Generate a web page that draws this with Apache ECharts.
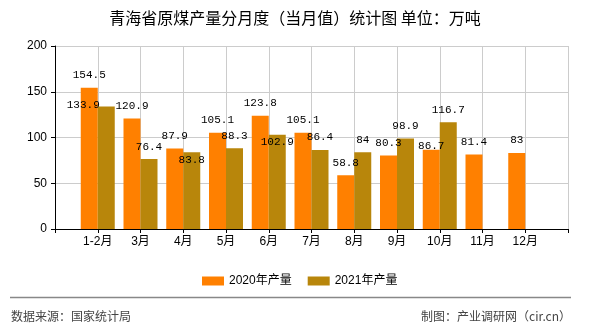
<!DOCTYPE html>
<html>
<head>
<meta charset="utf-8">
<script src="https://cdn.jsdelivr.net/npm/echarts@6/dist/echarts.min.js"></script>
<style>
html,body{margin:0;padding:0;background:#fff;}
#c{width:590px;height:330px;}
</style>
</head>
<body>
<div id="c"></div>
<script>
var categories = ['1-2月','3月','4月','5月','6月','7月','8月','9月','10月','11月','12月'];
var series2020 = [154.5, 120.9, 87.9, 105.1, 123.8, 105.1, 58.8, 80.3, 86.7, 81.4, 83];
var series2021 = [133.9, 76.4, 83.8, 88.3, 102.9, 86.4, 84, 98.9, 116.7, null, null];
var yTicks = [0, 50, 100, 150, 200];
var seriesNames = ['2020年产量', '2021年产量'];

// label nudges (layout only, not data) copied from reference label placement
var labelShift2020 = {8: [0, 9]};
var labelShift2021 = {0: [-23, 11], 2: [0, 20], 4: [0, 20]};

function buildData(vals, shifts) {
  var out = ['-'];
  vals.forEach(function (v, i) {
    if (v === null) { out.push('-'); return; }
    var item = {value: v};
    if (shifts[i]) item.label = {offset: shifts[i]};
    out.push(item);
  });
  out.push('-');
  return out;
}

var chart = echarts.init(document.getElementById('c'), null, {renderer: 'canvas'});
var latin = '"Liberation Sans", "Noto Sans CJK SC", sans-serif';
var labelStyle = {
  show: true, position: 'top', distance: 7,
  fontFamily: '"Liberation Mono", monospace', fontSize: 11, color: '#000'
};
chart.setOption({
  animation: false,
  color: ['#FF8000', '#B8860B'],
  grid: {left: 55, right: 22, top: 46, bottom: 101},
  legend: {
    data: seriesNames, left: 197, top: 270, itemWidth: 22, itemHeight: 9, itemGap: 16,
    icon: 'rect',
    textStyle: {fontFamily: latin, fontSize: 12, color: '#000', padding: [0, 0, 0, 0]}
  },
  xAxis: {
    type: 'category', boundaryGap: false,
    data: [''].concat(categories, ['']),
    axisLine: {lineStyle: {color: '#000', width: 1}},
    axisTick: {show: true, length: 4, interval: 0, lineStyle: {color: '#000'}},
    axisLabel: {interval: 0, margin: 7, fontFamily: latin, fontSize: 12, color: '#000'},
    splitLine: {show: true, interval: 0, lineStyle: {color: '#cccccc', width: 1}}
  },
  yAxis: {
    type: 'value', min: yTicks[0], max: yTicks[yTicks.length - 1], interval: 50,
    axisLine: {show: true, lineStyle: {color: '#000', width: 1}},
    axisTick: {show: true, length: 4, lineStyle: {color: '#000'}},
    axisLabel: {margin: 8, fontFamily: latin, fontSize: 12, color: '#000'},
    splitLine: {show: true, lineStyle: {color: '#cccccc', width: 1}}
  },
  series: [
    {name: seriesNames[0], type: 'bar', barWidth: 17, barGap: 0, data: buildData(series2020, labelShift2020), label: labelStyle},
    {name: seriesNames[1], type: 'bar', barWidth: 17, barGap: 0, data: buildData(series2021, labelShift2021), label: labelStyle}
  ],
  graphic: [
    {type: 'text', style: {text: '青海省原煤产量分月度（当月值）统计图 单位：万吨', x: 295, y: 18,
      textAlign: 'center', textVerticalAlign: 'middle', fontSize: 16, fontFamily: '"Noto Sans CJK SC", sans-serif', fill: '#000'}},
    {type: 'line', shape: {x1: 10, y1: 297.5, x2: 571, y2: 297.5}, style: {stroke: '#888', lineWidth: 1.5}},
    {type: 'text', style: {text: '数据来源：国家统计局', x: 11, y: 316, textAlign: 'left', textVerticalAlign: 'middle',
      fontSize: 12, fontFamily: '"Noto Sans CJK SC", sans-serif', fill: '#444'}},
    {type: 'text', style: {text: '制图：产业调研网（cir.cn）', x: 571, y: 316, textAlign: 'right', textVerticalAlign: 'middle',
      fontSize: 12, fontFamily: '"Noto Sans CJK SC", sans-serif', fill: '#444'}}
  ]
});
</script>
</body>
</html>
